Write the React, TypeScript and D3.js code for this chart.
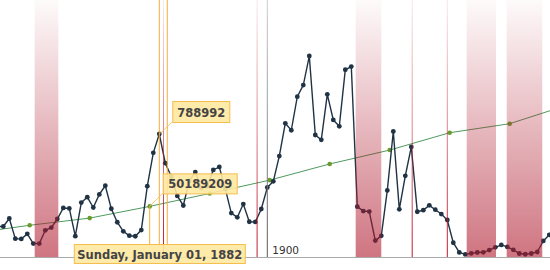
import React from "react";
import * as d3 from "d3";

const W = 550;
const H = 270;

// US immigration per year, first value is 1855
const immigrationStartYear = 1855;
const immigration = [
  200877, 200436, 251306, 123126, 121282, 153640, 91918, 91985, 176282, 193418,
  248120, 318568, 315722, 138840, 352768, 387203, 321350, 404806, 459803, 313339,
  227498, 169986, 141857, 138469, 177826, 457257, 669431, 788992, 603322, 518592,
  395346, 334203, 490109, 546889, 444427, 455302, 560319, 579663, 439730, 285631,
  258536, 343267, 230832, 229299, 311715, 448572, 487918, 648743, 857046, 812870,
  1026499, 1100735, 1285349, 782870, 751786, 1041570, 878587, 838172, 1197892, 1218480,
  326700, 298826, 295403, 110618, 141132, 430001, 805228, 309556, 522919, 706896,
  294314, 304488, 335175, 307255, 279678, 241700, 97139, 35576, 23068, 29470,
  34956, 36329, 50244, 67895, 82998, 70756, 51776, 28781, 23725, 28551,
  38119, 108721, 147292, 170570,
];

// Census population
const censusYears = [1850, 1860, 1870, 1880, 1890, 1900, 1910, 1920, 1930, 1940, 1950];
const population = [
  23191876, 31443321, 38558371, 50189209, 62979766, 76212168, 92228496, 106021537,
  123202624, 132164569, 151325798,
];

// shaded periods (start, end in fractional years)
const bandStarts = [1861.23, 1914.73, 1933.23, 1939.9];
const bandEnds = [1865.17, 1919.0, 1938.12, 1945.83];
// red guide lines
const guideYears = [1882.7, 1898.3, 1924.15, 1930.0];
// axis ticks
const tickYears = [1900];
const tickLabels = ["1900"];
// cursor
const cursorYear = 1882;
const cursorYear2 = 1883.33;
const cursorLabel = "Sunday, January 01, 1882";
const censusCursorIndex = 3;

const FONT = "'DejaVu Sans', Verdana, sans-serif";

export default function App() {
  const x = d3.scaleLinear().domain([1855.45, 1947.117]).range([0, W]);
  const yImm = d3.scaleLinear().domain([0, 1641850]).range([258, 0]);
  const yPop = d3.scaleLinear().domain([0, 254.8e6]).range([257, 0]);
  const bottom = 257.5;

  const immPts = immigration.map((v, i) => [x(immigrationStartYear + i), yImm(v)] as [number, number]);
  const popPts = population.map((v, i) => [x(censusYears[i] + 0.4), yPop(v)] as [number, number]);
  const line = d3.line();

  const cx = x(cursorYear);
  const cIdx = cursorYear - immigrationStartYear;
  const [ix, iy] = immPts[cIdx];
  const [gx, gy] = popPts[censusCursorIndex];

  const balloonFill = "rgba(254,232,160,0.9)";
  const balloonStroke = "#f6bd4f";
  const textColor = "#444";

  const b1 = { x: ix + 13, y: iy - 33, w: 57, h: 21 };
  const b2 = { x: gx + 13, y: gy - 33, w: 74, h: 20 };
  const b3 = { x: cx - 85.5, y: 244, w: 171, h: 19 };

  return (
    <svg width={W} height={H} style={{ position: "absolute", left: 0, top: 0, background: "#fff" }}>
      <defs>
        <linearGradient id="bandGrad" gradientUnits="userSpaceOnUse" x1="0" y1="0" x2="0" y2={bottom}>
          <stop offset="0" stopColor="rgb(175,25,45)" stopOpacity={0.02} />
          <stop offset="1" stopColor="rgb(175,25,45)" stopOpacity={0.6} />
        </linearGradient>
        <linearGradient id="redLine" gradientUnits="userSpaceOnUse" x1="0" y1="0" x2="0" y2={bottom}>
          <stop offset="0" stopColor="rgb(200,30,50)" stopOpacity={0.1} />
          <stop offset="1" stopColor="rgb(190,20,40)" stopOpacity={1} />
        </linearGradient>
        <linearGradient id="grayLine" gradientUnits="userSpaceOnUse" x1="0" y1="0" x2="0" y2={bottom}>
          <stop offset="0" stopColor="#cccccc" />
          <stop offset="1" stopColor="#555555" />
        </linearGradient>
      </defs>

      {/* population trend */}
      <path d={line(popPts) || ""} fill="none" stroke="#4f9a5e" strokeWidth={1} />
      {popPts.map((p, i) => (
        <circle key={"g" + i} cx={p[0]} cy={p[1]} r={2.3} fill="#6a9a2c" />
      ))}

      {/* immigration */}
      <path d={line(immPts) || ""} fill="none" stroke="#1f3345" strokeWidth={1.4} />
      {immPts.map((p, i) => (
        <circle key={"d" + i} cx={p[0]} cy={p[1]} r={2.4} fill="#1f3345" />
      ))}

      {/* bands */}
      {bandStarts.map((s, i) => (
        <rect key={"b" + i} x={x(s)} y={0} width={x(bandEnds[i]) - x(s)} height={bottom} fill="url(#bandGrad)" />
      ))}

      {/* red guides */}
      {guideYears.map((g, i) => (
        <line key={"r" + i} x1={x(g)} x2={x(g)} y1={0} y2={bottom} stroke="url(#redLine)" strokeWidth={1} />
      ))}

      {/* grid + ticks */}
      {tickYears.map((t, i) => (
        <g key={"t" + i}>
          <line x1={x(t)} x2={x(t)} y1={0} y2={bottom} stroke="url(#grayLine)" strokeWidth={1} />
          <text x={x(t) + 5} y={254} fontFamily={FONT} fontSize={10.5} fill="#333">
            {tickLabels[i]}
          </text>
        </g>
      ))}
      <line x1={0} x2={W} y1={bottom} y2={bottom} stroke="#aaa" strokeWidth={1} />

      {/* cursor */}
      <line x1={cx} x2={cx} y1={0} y2={b3.y} stroke="#f6ad3c" strokeWidth={1} />
      <line x1={x(cursorYear2)} x2={x(cursorYear2)} y1={0} y2={b3.y} stroke="#f6ad3c" strokeWidth={1} />
      <line x1={gx} x2={gx} y1={gy} y2={b3.y} stroke="#f6ad3c" strokeWidth={1} />

      {/* connectors */}
      <line x1={ix} y1={iy} x2={b1.x} y2={b1.y + b1.h} stroke="#f6bd4f" strokeWidth={1} opacity={0.8} />
      <line x1={gx} y1={gy} x2={b2.x} y2={b2.y + b2.h} stroke="#f6bd4f" strokeWidth={1} opacity={0.8} />

      {/* balloons */}
      <rect x={b1.x + 0.5} y={b1.y + 0.5} width={b1.w} height={b1.h} fill={balloonFill} stroke={balloonStroke} />
      <text x={b1.x + 0.5 + b1.w / 2} y={b1.y + 15.5} textAnchor="middle" fontFamily={FONT} fontWeight="bold" fontSize={11.5} fill={textColor}>
        {String(immigration[cIdx])}
      </text>

      <rect x={b2.x + 0.5} y={b2.y + 0.5} width={b2.w} height={b2.h} fill={balloonFill} stroke={balloonStroke} />
      <text x={b2.x + 0.5 + b2.w / 2} y={b2.y + 15} textAnchor="middle" fontFamily={FONT} fontWeight="bold" fontSize={11.5} fill={textColor}>
        {String(population[censusCursorIndex])}
      </text>

      <rect x={b3.x + 0.5} y={b3.y + 0.5} width={b3.w} height={b3.h} fill={balloonFill} stroke={balloonStroke} />
      <text x={b3.x + 0.5 + b3.w / 2} y={b3.y + 14.5} textAnchor="middle" fontFamily={FONT} fontWeight="bold" fontSize={11.5} fill={textColor}>
        {cursorLabel}
      </text>
    </svg>
  );
}
